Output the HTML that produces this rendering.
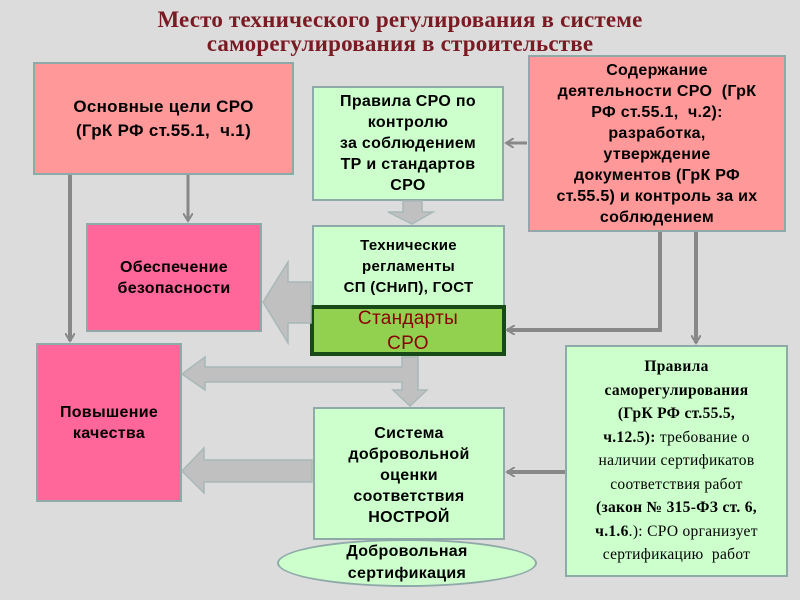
<!DOCTYPE html>
<html><head><meta charset="utf-8"><style>
body{margin:0;width:800px;height:600px;background:#dcdcdc;position:relative;overflow:hidden;font-family:"Liberation Sans","Noto Sans CJK SC",sans-serif}
.b{position:absolute;box-sizing:border-box;border:2px solid #8fa8a8;display:flex;align-items:center;justify-content:center;text-align:center;font-weight:bold;color:#000;font-size:16px;line-height:21px;letter-spacing:0.3px}
.pk{background:#ff9999}.mg{background:#ff6699}.gr{background:#ccffcc}
svg{position:absolute;left:0;top:0;z-index:5}
</style></head><body>
<svg width="800" height="600">
<defs><marker id="m" markerWidth="10" markerHeight="10" refX="8" refY="5" orient="auto" markerUnits="userSpaceOnUse"><path d="M0,0 L8,5 L0,10" fill="none" stroke="#888" stroke-width="2"/></marker></defs>
<g fill="#c0c0c0" stroke="#a8b8b8" stroke-width="1.5">
<polygon points="403,201 422,201 422,212 433,212 412,224 388,212 403,212"/>
<polygon points="311,282 288,282 288,262 263,302 288,343 288,323 311,323"/>
<polygon points="402,357 418,357 418,390 427,390 410,406 393,390 402,390 402,382 205,382 205,390 182,374 205,357 205,367 402,367"/>
<polygon points="312,460 204,460 204,448 182,471 204,493 204,482 312,482"/>
</g>
<g stroke="#888" stroke-width="4" fill="none">
<line x1="70" y1="175" x2="70" y2="341" marker-end="url(#m)"/>
<line x1="188" y1="175" x2="188" y2="221" stroke-width="3" marker-end="url(#m)"/>
<line x1="527" y1="143" x2="506" y2="143" stroke-width="3" marker-end="url(#m)"/>
<polyline points="660,232 660,330 507,330" marker-end="url(#m)"/>
<line x1="696" y1="232" x2="696" y2="343" marker-end="url(#m)"/>
<line x1="565" y1="472" x2="507" y2="472" marker-end="url(#m)"/>
</g>
</svg>
<div style="position:absolute;left:0;top:8px;width:800px;text-align:center;font-family:'Liberation Serif',serif;font-weight:bold;font-size:23px;line-height:24px;letter-spacing:0.2px;color:#7a1a22">Место технического регулирования в системе<br>саморегулирования в строительстве</div>
<div class="b pk" style="left:33px;top:62px;width:261px;height:113px;font-size:17px;line-height:24px">Основные цели СРО<br>(ГрК РФ ст.55.1,&nbsp; ч.1)</div>
<div class="b gr" style="left:312px;top:86px;width:192px;height:115px">Правила СРО по<br>контролю<br>за соблюдением<br>ТР и стандартов<br>СРО</div>
<div class="b pk" style="left:528px;top:55px;width:258px;height:177px">Содержание<br>деятельности СРО&nbsp; (ГрК<br>РФ ст.55.1,&nbsp; ч.2):<br>разработка,<br>утверждение<br>документов (ГрК РФ<br>ст.55.5) и контроль за их<br>соблюдением</div>
<div class="b mg" style="left:86px;top:223px;width:176px;height:109px">Обеспечение<br>безопасности</div>
<div class="b gr" style="left:312px;top:225px;width:193px;height:82px;font-size:15px">Технические<br>регламенты<br>СП (СНиП), ГОСТ</div>
<div class="b" style="left:310px;top:305px;width:196px;height:51px;background:#92d050;border:4px solid #174a17;color:#8b0000;font-weight:normal;font-size:19px;line-height:25px">Стандарты<br>СРО</div>
<div class="b mg" style="left:36px;top:343px;width:146px;height:159px">Повышение<br>качества</div>
<div class="b gr" style="left:313px;top:407px;width:192px;height:133px;align-items:flex-start;padding-top:14px">Система<br>добровольной<br>оценки<br>соответствия<br>НОСТРОЙ</div>
<div class="b gr" style="left:277px;top:539px;width:260px;height:48px;border-radius:50%;line-height:22px">Добровольная<br>сертификация</div>
<div class="b gr" style="left:565px;top:345px;width:223px;height:232px;font-family:'Liberation Serif',serif;font-weight:normal;font-size:15.5px;line-height:23.5px"><div><b>Правила<br>саморегулирования<br>(ГрК РФ ст.55.5,<br>ч.12.5): </b> требование о<br>наличии сертификатов<br>соответствия работ<br><b>(закон № 315-ФЗ ст. 6,<br>ч.1.6</b>.): СРО организует<br>сертификацию&nbsp; работ</div></div>
</body></html>
